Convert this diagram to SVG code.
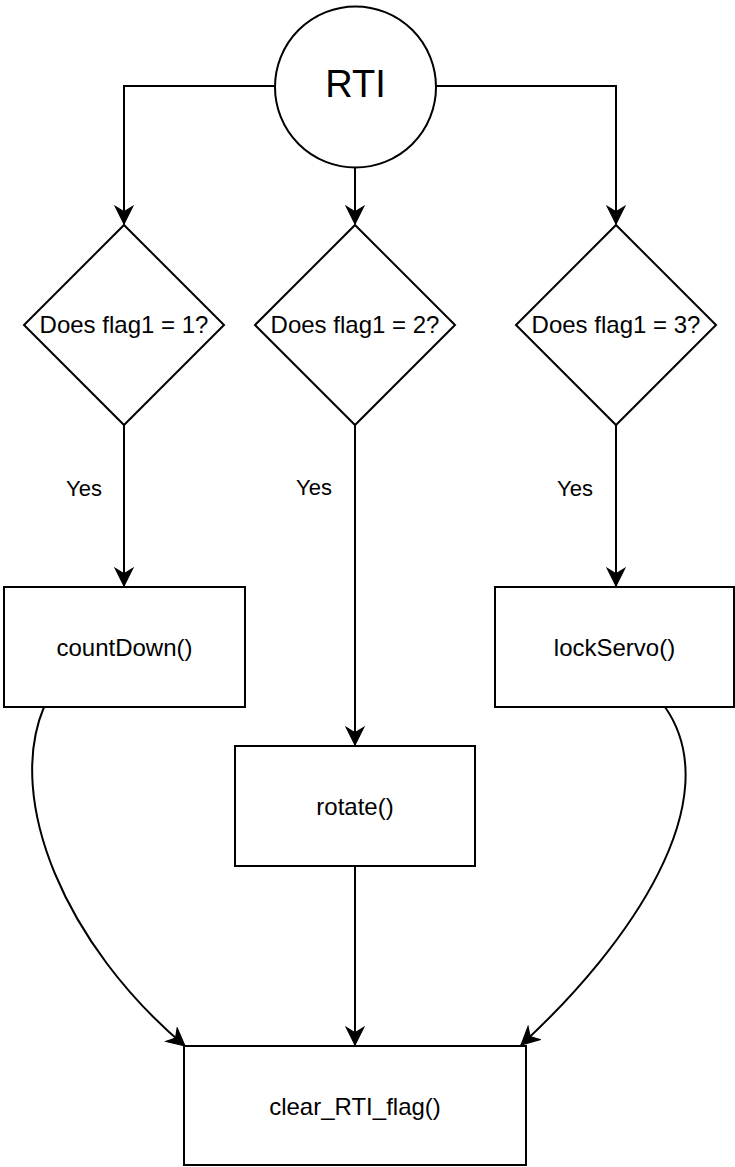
<svg xmlns="http://www.w3.org/2000/svg" width="735" height="1167" viewBox="0 0 735 1167">
  <style>
    .shape { fill: #ffffff; stroke: #000000; stroke-width: 2; }
    .edge { fill: none; stroke: #000000; stroke-width: 2; }
    .label { font-family: "Liberation Sans", Arial, sans-serif; font-size: 24px; fill: #000000; text-anchor: middle; }
    .big { font-size: 38px; }
    .yes { font-size: 22px; }
  </style>
  <defs>
    <marker id="arrow" markerUnits="userSpaceOnUse" markerWidth="20" markerHeight="20" viewBox="-16 -8 17 16" refX="0" refY="0" orient="auto">
      <path d="M -15 -7.5 L 0 0 L -15 7.5 L -10.5 0 Z" fill="#000000" stroke="#000000" stroke-width="1"/>
    </marker>
  </defs>
  <rect width="735" height="1167" fill="#ffffff"/>

  <g id="connectors">
    <path class="edge" d="M 275 86 L 124 86 L 124 224" marker-end="url(#arrow)"/>
    <path class="edge" d="M 355 167 L 355 224" marker-end="url(#arrow)"/>
    <path class="edge" d="M 436 86 L 616 86 L 616 224" marker-end="url(#arrow)"/>
    <path class="edge" d="M 124 425 L 124 586" marker-end="url(#arrow)"/>
    <path class="edge" d="M 355 425 L 355 745" marker-end="url(#arrow)"/>
    <path class="edge" d="M 616 425 L 616 586" marker-end="url(#arrow)"/>
    <path class="edge" d="M 355 866 L 355 1045" marker-end="url(#arrow)"/>
    <path class="edge" d="M 44 707 C 5 800, 65 945, 185 1046" marker-end="url(#arrow)"/>
    <path class="edge" d="M 665 707 C 730 800, 630 945, 521 1045" marker-end="url(#arrow)"/>
    <text class="label yes" x="84" y="496">Yes</text>
    <text class="label yes" x="314" y="495">Yes</text>
    <text class="label yes" x="575" y="496">Yes</text>
  </g>

  <g id="rti">
    <circle class="shape" cx="355.5" cy="87" r="80.5"/>
    <text class="label big" x="355.5" y="97">RTI</text>
  </g>

  <g id="decision1">
    <polygon class="shape" points="124,225 224,325 124,425 24,325"/>
    <text class="label" x="124" y="333">Does flag1 = 1?</text>
  </g>
  <g id="decision2">
    <polygon class="shape" points="355,225 455,325 355,425 255,325"/>
    <text class="label" x="355" y="333">Does flag1 = 2?</text>
  </g>
  <g id="decision3">
    <polygon class="shape" points="616,225 716,325 616,425 516,325"/>
    <text class="label" x="616" y="333">Does flag1 = 3?</text>
  </g>

  <g id="countdown">
    <rect class="shape" x="4" y="587" width="241" height="120"/>
    <text class="label" x="124.5" y="656">countDown()</text>
  </g>
  <g id="rotate">
    <rect class="shape" x="235" y="746" width="240" height="120"/>
    <text class="label" x="355" y="815">rotate()</text>
  </g>
  <g id="lockservo">
    <rect class="shape" x="495" y="587" width="239" height="120"/>
    <text class="label" x="614.5" y="656">lockServo()</text>
  </g>
  <g id="clearflag">
    <rect class="shape" x="184" y="1046" width="342" height="119"/>
    <text class="label" x="355" y="1115">clear_RTI_flag()</text>
  </g>
</svg>
